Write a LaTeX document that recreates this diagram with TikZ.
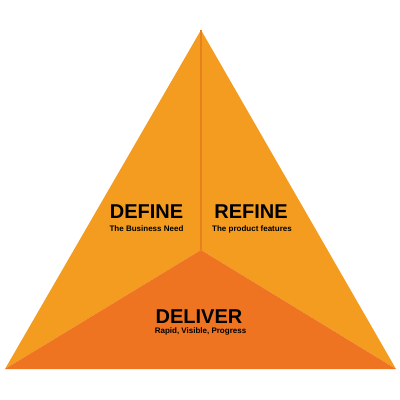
\documentclass[tikz,border=0pt]{standalone}
\usepackage{fontspec}
\setmainfont{Liberation Sans}
\usetikzlibrary{positioning}
\definecolor{defineclr}{HTML}{F39C1F}
\definecolor{refineclr}{HTML}{F49C20}
\definecolor{deliverclr}{HTML}{EE7421}
\definecolor{splitclr}{HTML}{E8801D}
\tikzset{title/.style={anchor=base,font=\fontsize{20}{20}\selectfont\bfseries,inner sep=0pt},
  sub/.style={anchor=base,font=\fontsize{8}{8}\selectfont\bfseries,inner sep=0pt}}

\begin{document}
\begin{tikzpicture}[x=1pt,y=-1pt]
\useasboundingbox (0,0) rectangle (400,400);
\coordinate (apex) at (201,30);\coordinate (left) at (5,369);\coordinate (right) at (396,369);\coordinate (mid) at (201,250);
\fill[defineclr] (apex)--(mid)--(left)--cycle;
\fill[refineclr] (apex)--(right)--(mid)--cycle;
\fill[deliverclr] (left)--(mid)--(right)--cycle;
\draw[splitclr,line width=1.5pt] (apex)--(mid);
\node[title] (define) at (146.5,218.5){DEFINE};\node[sub] (defsub) at (146.5,231){The Business Need};
\node[title] (refine) at (251,218.5){REFINE};\node[sub] (refsub) at (252,231){The product features};
\node[title] (deliver) at (199,323.5){DELIVER};\node[sub] (delsub) at (200.5,333){Rapid, Visible, Progress};
\end{tikzpicture}
\end{document}
